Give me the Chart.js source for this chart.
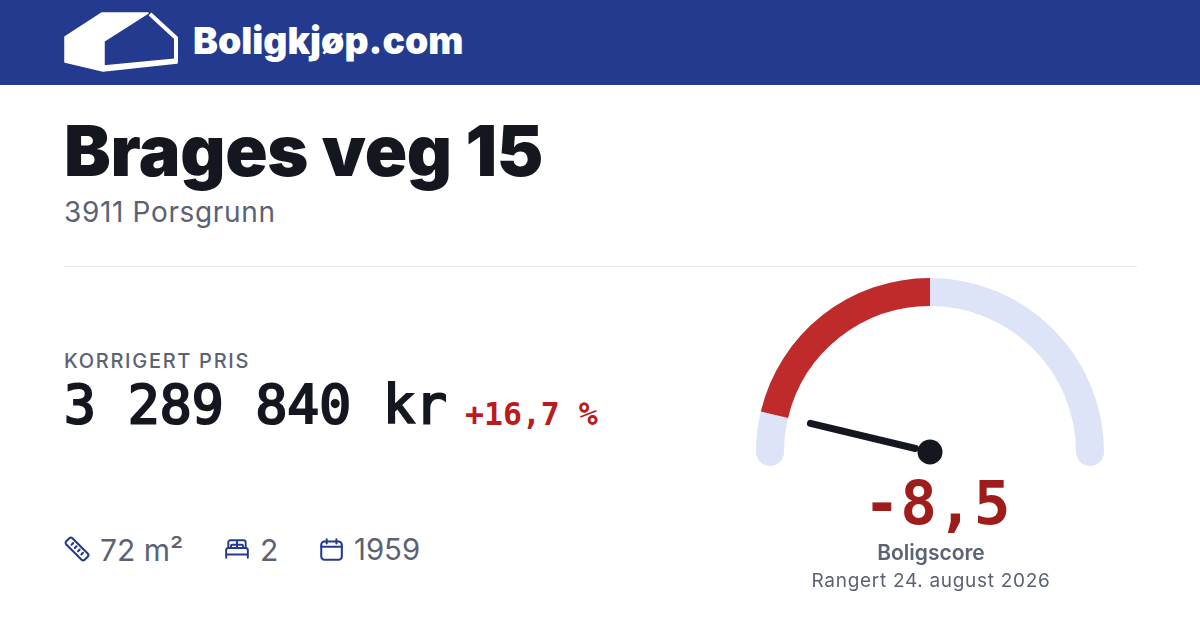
<!DOCTYPE html>
<html lang="no">
<head>
<meta charset="utf-8">
<title>Brages veg 15</title>
<script src="https://cdn.jsdelivr.net/npm/chart.js@4"></script>
<style>
  html, body { margin:0; padding:0; background:#fff; }
  body { position:relative; width:1200px; height:630px; overflow:hidden; font-family:Inter,sans-serif; color:#14171f; }
  .t { position:absolute; white-space:pre; }
  .mono { font-family:"DejaVu Sans Mono",monospace; font-weight:700; }
  #bar { position:absolute; left:0; top:0; width:1200px; height:85px; background:#243a8f; }
  #rule { position:absolute; left:64px; top:266px; width:1073px; height:1px; background:#e5e7eb; }
  #gaugeBox { position:absolute; left:750px; top:272px; width:360px; height:200px; }
  svg { position:absolute; overflow:visible; }
</style>
</head>
<body>
<div id="bar"></div>
<svg style="left:0;top:0" width="200" height="85">
  <path fill="#fff" stroke="#fff" stroke-width="1.5" stroke-linejoin="round" d="M65 37 L102 13 L148 13 L104 41 L104 66 L177 59 L177 63 L103 71 L65 62 Z"/>
  <path fill="none" stroke="#fff" stroke-width="4" d="M150 14 L176 38 L176 62"/>
</svg>
<div class="t" style="left:193px;top:18px;font-size:37.3px;line-height:46px;font-weight:900;color:#fff">Boligkjøp.com</div>

<div class="t" style="left:64px;top:109px;font-size:70px;line-height:84px;font-weight:900;letter-spacing:-0.3px">Brages veg 15</div>
<div class="t" style="left:64px;top:194px;font-size:28px;line-height:36px;letter-spacing:0.65px;color:#5b6274">3911 Porsgrunn</div>
<div id="rule"></div>

<div class="t" style="left:64px;top:348px;font-size:20px;line-height:26px;font-weight:500;letter-spacing:1.7px;color:#5b6274">KORRIGERT PRIS</div>
<div class="t mono" style="left:64px;top:372px;font-size:53px;line-height:66px;font-weight:400;-webkit-text-stroke:2.2px #14171f">3 289 840 kr</div>
<div class="t mono" style="left:465px;top:394px;font-size:31.5px;line-height:40px;color:#b91c1c">+16,7 %</div>

<svg style="left:64px;top:536px" width="26" height="26" viewBox="0 0 24 24" fill="none" stroke="#243a8f" stroke-width="1.9" stroke-linejoin="round" stroke-linecap="round">
  <rect x="0" y="8" width="24" height="8" rx="2" transform="rotate(45 12 12)"/>
  <path d="M8.5 6.5 l-1.5 1.5 M11.5 9.5 l-1.5 1.5 M14.5 12.5 l-1.5 1.5 M17.5 15.5 l-1.5 1.5"/>
</svg>
<div class="t" style="left:100px;top:531px;font-size:30px;line-height:38px;color:#5b6274">72 m²</div>
<svg style="left:224px;top:536px" width="26" height="26" viewBox="0 0 24 24" fill="none" stroke="#243a8f" stroke-width="1.8" stroke-linejoin="round" stroke-linecap="round">
  <path d="M2 20 V13 Q2 11 4 11 H20 Q22 11 22 13 V20 M2 17 H22 M4 11 V6 Q4 4 6 4 H18 Q20 4 20 6 V11 M12 4 V11 M6.5 11 V9 Q6.5 8 7.5 8 H11 Q12 8 12 9 M12 9 Q12 8 13 8 H16.5 Q17.5 8 17.5 9 V11"/>
</svg>
<div class="t" style="left:260px;top:531px;font-size:30px;line-height:38px;color:#5b6274">2</div>
<svg style="left:318px;top:536px" width="26" height="26" viewBox="0 0 24 24" fill="none" stroke="#243a8f" stroke-width="1.9" stroke-linejoin="round" stroke-linecap="round">
  <rect x="3" y="5" width="19" height="17" rx="3"/>
  <path d="M3 10 H22 M8 3 V7 M17 3 V7"/>
</svg>
<div class="t" style="left:354px;top:531px;font-size:29.3px;line-height:38px;color:#5b6274">1959</div>

<div id="gaugeBox"><canvas id="gauge"></canvas></div>
<div class="t mono" style="left:737px;width:400px;text-align:center;top:463px;font-size:61px;line-height:80px;color:#9f1c1c">-8,5</div>
<div class="t" style="left:731px;width:400px;text-align:center;top:540px;font-size:21px;line-height:26px;font-weight:600;color:#5b6274">Boligscore</div>
<div class="t" style="left:731px;width:400px;text-align:center;top:568px;font-size:19px;line-height:26px;color:#5b6274;letter-spacing:0.7px">Rangert 24. august 2026</div>

<script>
// Data
const gaugeLabels = ['Under', 'Score', 'Over'];
const gaugeValues = [1.5, 8.5, 10];
const gaugeColors = ['#dee4f7', '#bf2a2a', '#dee4f7'];

const BAND = 28;

// runde ender + viser, tegnet fra buene chart.js har lagt ut
const gaugeExtras = {
  id: 'gaugeExtras',
  afterDatasetsDraw(chart) {
    const { ctx } = chart;
    const arcs = chart.getDatasetMeta(0).data;
    const first = arcs[0], last = arcs[arcs.length - 1], red = arcs[1];
    const cx = first.x, cy = first.y;
    const mid = (first.innerRadius + first.outerRadius) / 2;

    ctx.save();
    ctx.fillStyle = gaugeColors[0];
    [first.startAngle, last.endAngle].forEach(a => {
      ctx.beginPath();
      ctx.arc(cx + Math.cos(a) * mid, cy + Math.sin(a) * mid, BAND / 2, 0, Math.PI * 2);
      ctx.fill();
    });

    const a = red.startAngle;
    ctx.strokeStyle = '#14171f';
    ctx.lineWidth = 7;
    ctx.lineCap = 'round';
    ctx.beginPath();
    ctx.moveTo(cx + Math.cos(a) * 15, cy + Math.sin(a) * 15);
    ctx.lineTo(cx + Math.cos(a) * 123, cy + Math.sin(a) * 123);
    ctx.stroke();

    ctx.fillStyle = '#14171f';
    ctx.beginPath();
    ctx.arc(cx, cy, 12.5, 0, Math.PI * 2);
    ctx.fill();
    ctx.restore();
  },
};

new Chart(document.getElementById('gauge'), {
  type: 'doughnut',
  data: {
    labels: gaugeLabels,
    datasets: [{ data: gaugeValues, backgroundColor: gaugeColors, borderWidth: 0 }],
  },
  options: {
    responsive: true,
    maintainAspectRatio: false,
    animation: false,
    rotation: -90,
    circumference: 180,
    cutout: '83.9%',
    layout: { padding: { left: 6, right: 6, top: 6, bottom: 20 } },
    plugins: { legend: { display: false }, tooltip: { enabled: false } },
  },
  plugins: [gaugeExtras],
});
</script>
</body>
</html>
